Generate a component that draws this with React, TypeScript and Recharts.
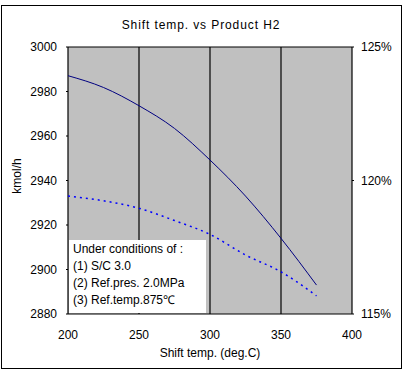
import React from 'react';
import { ComposedChart, Line, XAxis, YAxis, CartesianGrid, Customized } from 'recharts';

const temps = [200, 225, 250, 275, 300, 325, 350, 375];
const productH2 = [2987.1, 2981.8, 2973.6, 2963.4, 2949.2, 2933.0, 2914.0, 2893.0];
const productH2Pct = [119.42, 119.24, 118.96, 118.50, 117.98, 117.21, 116.58, 115.68];
const xTicks = [200, 250, 300, 350, 400];
const leftTicks = [2880, 2900, 2920, 2940, 2960, 2980, 3000];
const rightTicks = [115, 120, 125];
const titleText = 'Shift temp. vs Product H2';
const xLabel = 'Shift temp. (deg.C)';
const yLabel = 'kmol/h';
const notes = ['Under conditions of :', '(1) S/C 3.0', '(2) Ref.pres. 2.0MPa', '(3) Ref.temp.875\u2103'];

const data = temps.map((t, i) => ({ t, h2: productH2[i], pct: productH2Pct[i] }));

const FONT = 'Liberation Sans, Arial, sans-serif';

const Frame = () => (
  <g>
    <rect x={1.5} y={5.5} width={400} height={363} fill="none" stroke="#000" strokeWidth={1} />
    <text x={201} y={29} textAnchor="middle" fontFamily={FONT} fontSize={12} letterSpacing={0.9} fill="#000">{titleText}</text>
    <text x={210} y={357} textAnchor="middle" fontFamily={FONT} fontSize={12} fill="#000">{xLabel}</text>
    <text x={21} y={176} textAnchor="middle" fontFamily={FONT} fontSize={12} fill="#000" transform="rotate(-90 21 176)">{yLabel}</text>
  </g>
);

const Notes = () => (
  <g>
    <rect x={69} y={240} width={137} height={73} fill="#fff" />
    {notes.map((n, i) => (
      <text key={i} x={73} y={253 + i * 17} fontFamily={FONT} fontSize={12} fill="#000">{n}</text>
    ))}
  </g>
);

export default function App() {
  return (
    <div style={{ position: 'absolute', left: 0, top: 0, background: '#fff' }}>
      <ComposedChart width={405} height={375} data={data} margin={{ top: 47, right: 0, bottom: 0, left: 0 }}>
        <Customized component={Frame} />
        <CartesianGrid stroke="#000" strokeWidth={1.2} fill="#c0c0c0" fillOpacity={1} />
        <XAxis
          dataKey="t"
          type="number"
          domain={[200, 400]}
          ticks={xTicks}
          height={61}
          axisLine={false}
          tickLine={false}
          tickMargin={10}
          tick={{ fill: '#000', fontSize: 12, fontFamily: FONT }}
        />
        <YAxis
          yAxisId="left"
          domain={[2880, 3000]}
          ticks={leftTicks}
          width={68}
          axisLine={false}
          tickSize={2}
          tickLine={{ stroke: '#000' }}
          tickMargin={9}
          tick={{ fill: '#000', fontSize: 12, fontFamily: FONT }}
        />
        <YAxis
          yAxisId="right"
          orientation="right"
          domain={[115, 125]}
          ticks={rightTicks}
          width={53}
          axisLine={false}
          tickSize={2}
          tickLine={{ stroke: '#000' }}
          tickMargin={7}
          tickFormatter={(v: number) => `${v}%`}
          tick={{ fill: '#000', fontSize: 12, fontFamily: FONT }}
        />
        <Customized component={Notes} />
        <Line yAxisId="left" dataKey="h2" type="monotone" stroke="#000080" strokeWidth={1} dot={false} isAnimationActive={false} />
        <Line yAxisId="right" dataKey="pct" type="monotone" stroke="#0000ff" strokeWidth={1.5} strokeDasharray="2 4" dot={false} isAnimationActive={false} />
      </ComposedChart>
    </div>
  );
}
